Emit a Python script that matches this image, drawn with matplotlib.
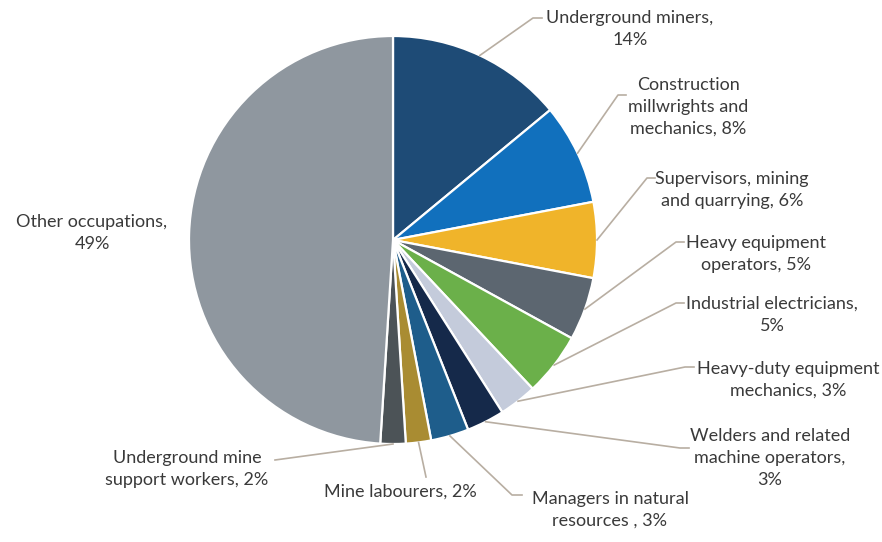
"""Pie chart of occupations, leader-line labels placed by hand."""

import matplotlib
matplotlib.use("Agg")
import matplotlib.pyplot as plt
import numpy as np

W, H = 882, 542

LABELS = [
    "Underground miners,\n14%",
    "Construction\nmillwrights and\nmechanics, 8%",
    "Supervisors, mining\nand quarrying, 6%",
    "Heavy equipment\noperators, 5%",
    "Industrial electricians,\n5%",
    "Heavy-duty equipment\nmechanics, 3%",
    "Welders and related\nmachine operators,\n3%",
    "Managers in natural\nresources , 3%",
    "Mine labourers, 2%",
    "Underground mine\nsupport workers, 2%",
    "Other occupations,\n49%",
]
SHARES = [14, 8, 6, 5, 5, 3, 3, 3, 2, 2, 49]
COLOURS = ["#1e4b76", "#1170bd", "#f0b42a", "#5c6670", "#6bb04a", "#c4cbdb",
           "#15294a", "#1e5d8b", "#a98c32", "#4c5357", "#8f979f"]

# layout, in pixels from the top-left of the picture
CENTRE, RADIUS = (393, 240), 204
TEXT_POS = [(630, 29), (688, 107), (732, 190), (756, 254), (772, 315), (788, 380),
            (770, 458), (610, 510), (400, 492), (187, 469), (92, 233)]
ELBOW = [(533, 18), (618, 95), (647, 178), (676, 242), (676, 303), (685, 367),
         (680, 448), (512, 495), (426, 477), (275, 460), None]
TAIL = [(542, 18), (626, 95), (655, 178), (684, 242), (684, 303), (694, 367),
        (689, 448), (522, 495), None, None, None]
LEADER = "#b8aea2"
INK = "#3a3a3a"


def flip(x, y):
    return x, H - y


fig = plt.figure(figsize=(W / 100, H / 100), dpi=100)
ax = fig.add_axes([0, 0, 1, 1])

cx, cy = flip(*CENTRE)
wedges, _ = ax.pie(SHARES, colors=COLOURS, startangle=90, counterclock=False,
                   center=(cx, cy), radius=RADIUS, frame=True,
                   wedgeprops=dict(edgecolor="white", linewidth=1.6))
ax.set_xlim(0, W)
ax.set_ylim(0, H)
ax.set_aspect("equal")
ax.set_axis_off()

for w, label, pos, elbow, tail in zip(wedges, LABELS, TEXT_POS, ELBOW, TAIL):
    mid = np.radians((w.theta1 + w.theta2) / 2)
    sx, sy = cx + RADIUS * np.cos(mid), cy + RADIUS * np.sin(mid)
    if elbow is not None:
        pts = [(sx, sy), flip(*elbow)]
        if tail is not None:
            pts.append(flip(*tail))
        xs, ys = zip(*pts)
        ax.plot(xs, ys, color=LEADER, lw=1.2, zorder=1)
    tx, ty = flip(*pos)
    ax.text(tx, ty, label, ha="center", va="center", multialignment="center",
            fontsize=13, family="Lato", color=INK, linespacing=1.45)

fig.savefig("out.png", dpi=100, facecolor="white")
